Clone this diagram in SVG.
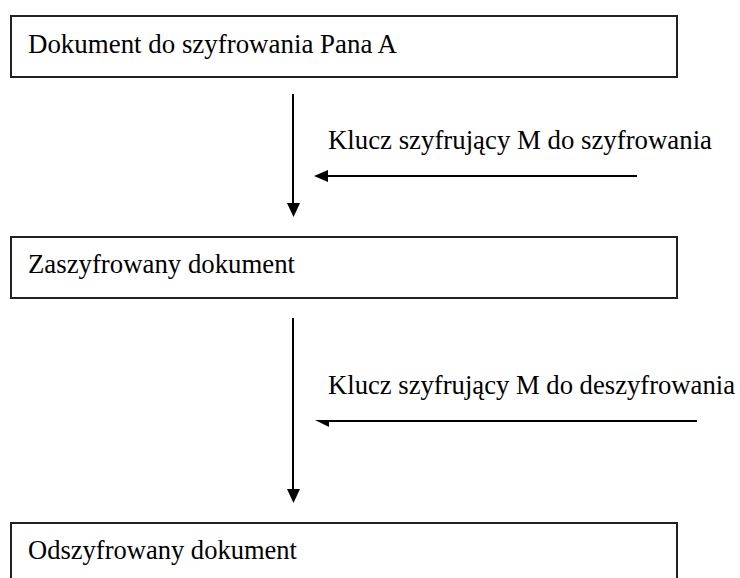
<svg xmlns="http://www.w3.org/2000/svg" width="740" height="578" viewBox="0 0 740 578">
<style>
.box{fill:#fff;stroke:#222;stroke-width:2}
.t{font-family:"Liberation Serif","Times New Roman",serif;font-size:27px;fill:#000}
.ln{stroke:#000;stroke-width:2;fill:none}
.hd{fill:#000}
</style>
<rect width="740" height="578" fill="#fff"/>
<g id="node-dokument">
<rect class="box" x="11" y="16" width="666" height="61"/>
<text class="t" x="28" y="53" textLength="369" lengthAdjust="spacingAndGlyphs">Dokument do szyfrowania Pana A</text>
</g>
<g id="node-zaszyfrowany">
<rect class="box" x="11" y="237" width="666" height="61"/>
<text class="t" x="28" y="273" textLength="267" lengthAdjust="spacingAndGlyphs">Zaszyfrowany dokument</text>
</g>
<g id="node-odszyfrowany">
<rect class="box" x="11" y="523" width="666" height="70"/>
<text class="t" x="28" y="559" textLength="269" lengthAdjust="spacingAndGlyphs">Odszyfrowany dokument</text>
</g>
<g id="connectors">
<line class="ln" x1="293" y1="94" x2="293" y2="204"/>
<polygon class="hd" points="287,203 300,203 293.5,217"/>
<line class="ln" x1="637" y1="176" x2="326" y2="176"/>
<polygon class="hd" points="314,176 328,170 328,182"/>
<text class="t" x="328" y="149" textLength="384" lengthAdjust="spacingAndGlyphs">Klucz szyfrujący M do szyfrowania</text>
<line class="ln" x1="293" y1="318" x2="293" y2="490"/>
<polygon class="hd" points="287,489 300,489 293.5,503"/>
<line class="ln" x1="697" y1="421" x2="320" y2="421"/>
<polygon class="hd" points="315,420 329,420 329,427"/>
<text class="t" x="328" y="394" textLength="407" lengthAdjust="spacingAndGlyphs">Klucz szyfrujący M do deszyfrowania</text>
</g>
</svg>
